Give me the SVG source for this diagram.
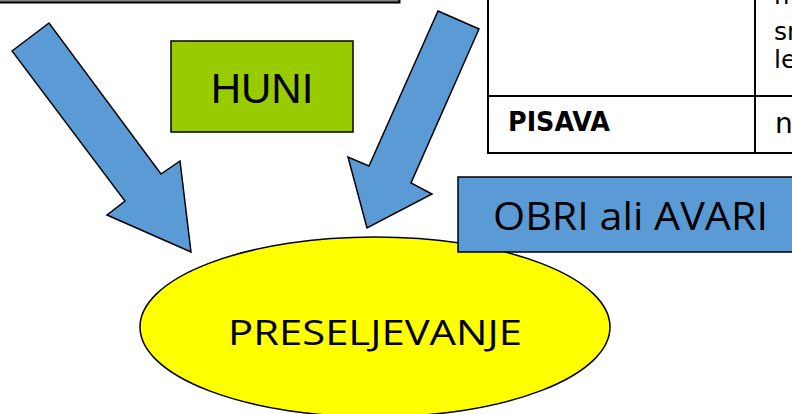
<svg xmlns="http://www.w3.org/2000/svg" width="792" height="414" viewBox="0 0 792 414">
<style>
.arrow{fill:#5b9bd5;stroke:#000;stroke-width:1.5;stroke-linejoin:miter}
.lbl{font-family:"Liberation Sans",Arial,sans-serif;fill:#000}
.cal{font-family:"Open Sans","Liberation Sans",sans-serif;fill:#000}
.tbl{fill:none;stroke:#000;stroke-width:2}
.cmc{font-family:"DejaVu Sans","Liberation Sans",sans-serif;fill:#000}
</style>
<rect width="792" height="414" fill="#fff"/>
<g id="topbox">
<rect x="-10" y="-60" width="409" height="62" fill="#fff" stroke="#000" stroke-width="3"/>
<rect x="-10" y="-60" width="408" height="61" fill="none" stroke="#888" stroke-width="1"/>
</g>
<g id="table">
<rect x="488" y="-10" width="320" height="163" class="tbl"/>
<line x1="755" y1="-10" x2="755" y2="153" class="tbl"/>
<line x1="488" y1="96" x2="800" y2="96" class="tbl"/>
<text x="508" y="131" class="cmc" font-size="26" font-weight="bold" textLength="102" lengthAdjust="spacingAndGlyphs">PISAVA</text>
<text x="774" y="4" class="cmc" font-size="25">m</text>
<text x="774" y="40" class="cmc" font-size="25">sn</text>
<text x="774" y="68" class="cmc" font-size="25">le</text>
<text x="775" y="133" class="cmc" font-size="28">n</text>
</g>
<g id="connectors">
<polygon class="arrow" points="12,51 49,23 161,174 180,161 191,252 107,215 125,201"/>
<polygon class="arrow" points="438,11 479,29 411,183 432,194 367,228 348,157 369,166"/>
</g>
<g id="huni">
<rect x="171" y="41" width="182" height="91" fill="#99cc00" stroke="#000" stroke-width="1.5"/>
<text x="262" y="103" class="lbl" font-size="42" text-anchor="middle">HUNI</text>
</g>
<g id="preseljevanje">
<ellipse cx="375" cy="327" rx="235" ry="90" fill="#ffff00" stroke="#000" stroke-width="1.5"/>
<text x="228" y="345" class="cal" font-size="35" textLength="294" lengthAdjust="spacingAndGlyphs">PRESELJEVANJE</text>
</g>
<g id="obri">
<rect x="458" y="177" width="340" height="75" fill="#5b9bd5" stroke="#000" stroke-width="1.5"/>
<text x="493" y="230" class="cal" font-size="38" textLength="275" lengthAdjust="spacingAndGlyphs">OBRI ali AVARI</text>
</g>
</svg>
